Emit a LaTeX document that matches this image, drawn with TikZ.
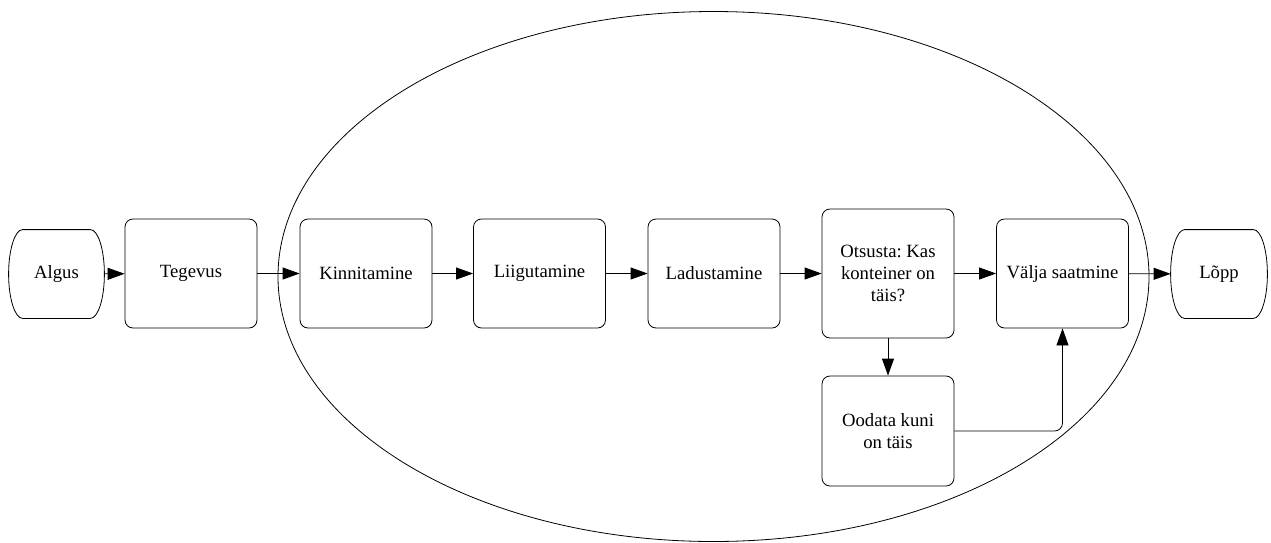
\documentclass[tikz,border=0pt]{standalone}
\usepackage{fontspec}
\setmainfont{Liberation Serif}
\usetikzlibrary{shapes.geometric,arrows.meta}

\tikzset{
  stepbox/.style={draw=black,rounded corners=8pt,minimum width=132pt,minimum height=109pt,
    align=center,inner sep=0pt},
  endbox/.style={minimum width=95pt,minimum height=88pt,inner sep=0pt},
  arr/.style={-{Triangle[length=17pt,width=12pt]}}
}
% algus-/lõpusõlme piirjoon
\newcommand{\termline}[1]{%
  \draw ([xshift=14pt]#1.north west) -- ([xshift=-14pt]#1.north east)
    .. controls ([xshift=-6.3pt]#1.north east) and ([yshift=24.3pt]#1.east) .. (#1.east)
    .. controls ([yshift=-24.3pt]#1.east) and ([xshift=-6.3pt]#1.south east) .. ([xshift=-14pt]#1.south east)
    -- ([xshift=14pt]#1.south west)
    .. controls ([xshift=6.3pt]#1.south west) and ([yshift=-24.3pt]#1.west) .. (#1.west)
    .. controls ([yshift=24.3pt]#1.west) and ([xshift=6.3pt]#1.north west) .. cycle;}

\begin{document}
\frenchspacing
\begin{tikzpicture}
      [x=1pt,y=1pt,line width=0.8pt,
       every node/.style={font=\fontsize{18.7}{22}\selectfont}]
      \useasboundingbox (0,0) rectangle (1271,-542);

      % protsessi piir
      \node[draw=black,ellipse,minimum width=871pt,minimum height=530pt,inner sep=0pt] (grp) at (713.5,-276.5) {};

      \node[endbox] (algus) at (56.5,-274) {Algus};
      \node[stepbox] (tegevus) at (191,-273.5) {Tegevus};
      \node[stepbox] (kinni) at (366,-273.5) {Kinnitamine};
      \node[stepbox] (liig) at (539.5,-273.5) {Liigutamine};
      \node[stepbox] (ladu) at (714,-273.5) {Ladustamine};
      \node[stepbox,minimum height=129pt] (otsus) at (888,-273.5) {Otsusta: Kas\\konteiner on\\täis?};
      \node[stepbox] (valja) at (1062.5,-273.5) {Välja saatmine};
      \node[endbox,minimum width=96pt] (lopp) at (1219,-274) {Lõpp};
      \node[stepbox,minimum height=110pt] (ootab) at (888,-431) {Oodata kuni\\on täis};

      \termline{algus}
      \termline{lopp}

      \foreach \from/\to in {algus/tegevus,tegevus/kinni,kinni/liig,liig/ladu,ladu/otsus,otsus/valja,valja/lopp,otsus/ootab}
      \draw[arr] (\from) -- (\to);

      \draw[arr,rounded corners=8pt] (ootab.east) -| (valja.south);
\end{tikzpicture}
\end{document}
